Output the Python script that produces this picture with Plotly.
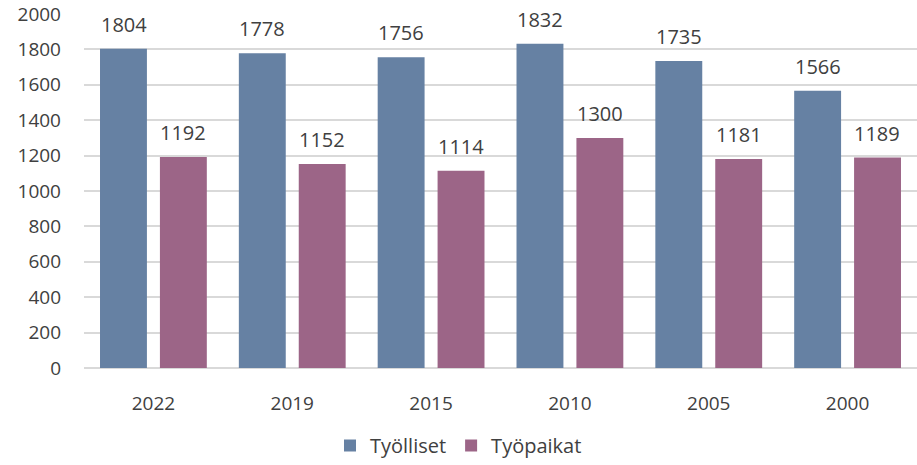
import plotly.graph_objects as go

years = ["2022", "2019", "2015", "2010", "2005", "2000"]
tyolliset = [1804, 1778, 1756, 1832, 1735, 1566]
tyopaikat = [1192, 1152, 1114, 1300, 1181, 1189]

blue = "#6681A3"
purple = "#9C6587"
txt = "#404040"
font_fam = "Open Sans, Lato, sans-serif"

fig = go.Figure()
fig.add_trace(go.Bar(name="Työlliset", x=years, y=tyolliset, marker=dict(color=blue, line=dict(width=0))))
fig.add_trace(go.Bar(name="Työpaikat", x=years, y=tyopaikat, marker=dict(color=purple, line=dict(width=0))))

for vals, off in [(tyolliset, -0.215), (tyopaikat, 0.215)]:
    for j, v in enumerate(vals):
        fig.add_annotation(x=j + off, y=v, text=str(v), showarrow=False, yanchor="bottom",
                           yshift=9, font=dict(size=20, color=txt, family=font_fam))

fig.update_layout(
    width=917, height=465,
    margin=dict(l=84, r=0, t=14, b=97),
    paper_bgcolor="white", plot_bgcolor="white",
    barmode="group", bargap=0.137, bargroupgap=0.217,
    font=dict(family=font_fam, color=txt),
    legend=dict(orientation="h", x=0.5, xanchor="center", xref="container",
                y=0, yanchor="bottom", yref="container",
                font=dict(size=20, color=txt), itemsizing="constant"),
    showlegend=True,
)
fig.update_yaxes(range=[0, 2000], dtick=200, showgrid=True, gridcolor="#D9D9D9", gridwidth=1.5,
                 zeroline=True, zerolinecolor="#D9D9D9", zerolinewidth=1.5, automargin=False,
                 tickfont=dict(size=19, color=txt), ticklabelstandoff=22)
fig.update_xaxes(showgrid=False, showline=False, automargin=False,
                 tickfont=dict(size=19, color=txt), ticklabelstandoff=22)

fig.write_html("out.html", config={"displayModeBar": False},
               post_script="document.body.style.margin='0';document.body.style.overflow='hidden';")
